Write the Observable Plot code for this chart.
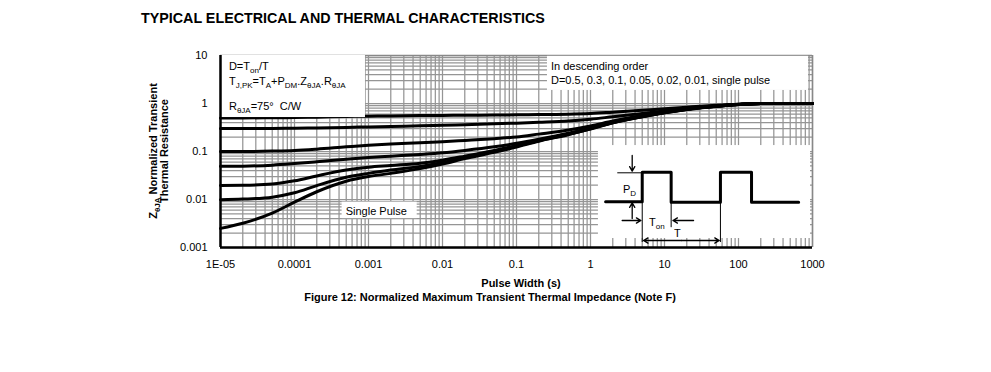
<!DOCTYPE html>
<html><head><meta charset="utf-8">
<script src="https://cdn.jsdelivr.net/npm/d3@7"></script>
<script src="https://cdn.jsdelivr.net/npm/@observablehq/plot@0.6"></script>
<style>
body{margin:0;background:#fff;font-family:"Liberation Sans",Arial,sans-serif;color:#000}
#wrap{position:relative;width:991px;height:372px;overflow:hidden;background:#fff}
#title{position:absolute;left:141px;top:10px;font-weight:bold;font-size:14.3px;line-height:16px;white-space:nowrap}
#chart{position:absolute;left:0;top:40px}
#caption{position:absolute;top:291px;left:0;width:980px;text-align:center;font-weight:bold;font-size:11px;line-height:13px;white-space:nowrap}
</style></head>
<body>
<div id="wrap">
<div id="title">TYPICAL ELECTRICAL AND THERMAL CHARACTERISTICS</div>
<div id="chart"></div>
<div id="caption">Figure 12: Normalized Maximum Transient Thermal Impedance (Note F)</div>
</div>
<script>
// ---------- data ----------
const durations = [1e-5,2e-5,5e-5,1e-4,2e-4,5e-4,1e-3,2e-3,5e-3,1e-2,2e-2,5e-2,0.1,0.2,0.5,1,2,5,10,20,50,100,200,500,1000];
const seriesNames = ["D=0.5","D=0.3","D=0.1","D=0.05","D=0.02","D=0.01","Single Pulse"];
const zD50 = [0.5,0.5,0.505,0.51,0.52,0.535,0.545,0.552,0.56,0.565,0.57,0.575,0.58,0.59,0.6,0.62,0.66,0.72,0.78,0.84,0.92,0.97,1.0,1.0,1.0];
const zD30 = [0.3,0.3,0.302,0.305,0.31,0.318,0.325,0.333,0.343,0.352,0.362,0.377,0.39,0.405,0.43,0.47,0.53,0.62,0.7,0.79,0.89,0.96,1.0,1.0,1.0];
const zD10 = [0.1,0.1,0.102,0.105,0.112,0.125,0.135,0.143,0.152,0.16,0.17,0.185,0.2,0.23,0.28,0.34,0.43,0.56,0.66,0.77,0.88,0.955,1.0,1.0,1.0];
const zD05 = [0.049,0.0495,0.052,0.056,0.061,0.069,0.075,0.08,0.087,0.094,0.105,0.125,0.148,0.18,0.24,0.31,0.41,0.545,0.65,0.76,0.877,0.952,1.0,1.0,1.0];
const zD02 = [0.0195,0.0197,0.021,0.0245,0.031,0.041,0.047,0.051,0.057,0.066,0.08,0.105,0.133,0.172,0.232,0.302,0.402,0.535,0.645,0.755,0.874,0.95,1.0,1.0,1.0];
const zD01 = [0.0099,0.0102,0.0112,0.0138,0.0195,0.029,0.035,0.041,0.049,0.059,0.075,0.1,0.128,0.168,0.228,0.298,0.398,0.532,0.642,0.752,0.872,0.95,1.0,1.0,1.0];
const zSingle = [0.0025,0.0032,0.0052,0.0088,0.0145,0.024,0.03,0.035,0.044,0.055,0.071,0.096,0.124,0.164,0.224,0.295,0.395,0.53,0.64,0.75,0.87,0.948,1.0,1.0,1.0];

const xTicks = [1e-5,1e-4,1e-3,1e-2,1e-1,1,10,100,1000];
const xTickLabels = ["1E-05","0.0001","0.001","0.01","0.1","1","10","100","1000"];
const yTicks = [0.001,0.01,0.1,1,10];
const yTickLabels = ["0.001","0.01","0.1","1","10"];

// annotation boxes (data units: seconds, normalized Z)
const boxT1 = [1e-5, 0.262, 4.4e-4, 1.28];
const boxT2 = [9.1e-4, 883, 4.55e-3, 940];
const boxZ1 = [0.51, 1.87, 0.0040, 0.00154];
const boxZ2 = [10, 9.6, 0.0088, 0.133];

// inset pulse schematic (data units)
const pulseT = [1.6, 5, 5, 12.3, 12.3, 57, 57, 150, 150, 650];
const pulseZ = [0.009, 0.009, 0.037, 0.037, 0.0088, 0.0088, 0.037, 0.037, 0.0088, 0.0088];
const guideT1 = [2.3, 5, 12.3, 57];
const guideZ1 = [0.036, 0.009, 0.0088, 0.0088];
const guideT2 = [5, 5, 12.3, 57];
const guideZ2 = [0.036, 0.0013, 0.00265, 0.0013];
const arrowT1 = [3.66, 3.66, 2.68, 24.7, 17, 17];
const arrowZ1 = [0.0825, 0.004, 0.00365, 0.00365, 0.0014, 0.0014];
const arrowT2 = [3.66, 3.66, 4.8, 13, 5.2, 55];
const arrowZ2 = [0.039, 0.0085, 0.00365, 0.00365, 0.0014, 0.0014];

// ---------- build tables ----------
const allZ = [zD50, zD30, zD10, zD05, zD02, zD01, zSingle];
const rows = [];
seriesNames.forEach((s, k) => durations.forEach((t, i) => rows.push({series: s, t, z: allZ[k][i]})));
const boxes = boxT1.map((d, i) => ({x1: d, x2: boxT2[i], y1: boxZ1[i], y2: boxZ2[i]}));
const pulse = pulseT.map((t, i) => ({t, z: pulseZ[i]}));
const guides = guideT1.map((d, i) => ({x1: d, y1: guideZ1[i], x2: guideT2[i], y2: guideZ2[i]}));
const arrows = arrowT1.map((d, i) => ({x1: d, y1: arrowZ1[i], x2: arrowT2[i], y2: arrowZ2[i]}));
const gridX = d3.scaleLog().domain([1e-5, 1000]).ticks();
const gridY = d3.scaleLog().domain([0.001, 10]).ticks();
const xLab = new Map(xTicks.map((d, i) => [d, xTickLabels[i]]));
const yLab = new Map(yTicks.map((d, i) => [d, yTickLabels[i]]));

const chart = Plot.plot({
  width: 991, height: 250,
  marginLeft: 220, marginRight: 179, marginTop: 15, marginBottom: 43,
  style: {fontFamily: "'Liberation Sans', Arial, sans-serif", fontSize: "11px", color: "#000", background: "transparent", overflow: "visible"},
  x: {type: "log", domain: [1e-5, 1000], ticks: xTicks, tickFormat: d => xLab.get(d), tickSize: 0, tickPadding: 13, label: null},
  y: {type: "log", domain: [0.001, 10], ticks: yTicks, tickFormat: d => yLab.get(d), tickSize: 0, tickPadding: 13, label: null},
  marks: [
    Plot.ruleX(gridX, {stroke: "#959595", strokeWidth: 1.25}),
    Plot.ruleY(gridY, {stroke: "#959595", strokeWidth: 1.25}),
    Plot.ruleY([10], {stroke: "#888", strokeWidth: 1.5}),
    Plot.ruleX([1000], {stroke: "#888", strokeWidth: 1.5}),
    Plot.line(rows, {x: "t", y: "z", z: "series", stroke: "#000", strokeWidth: 3, curve: "monotone-x"}),
    Plot.rect(boxes, {x1: "x1", x2: "x2", y1: "y1", y2: "y2", fill: "#fff"}),
    Plot.ruleX([1e-5], {stroke: "#000", strokeWidth: 2.5}),
    Plot.ruleY([0.001], {stroke: "#000", strokeWidth: 2.5}),
    Plot.line(pulse, {x: "t", y: "z", stroke: "#000", strokeWidth: 3, curve: "linear"}),
    Plot.link(guides, {x1: "x1", y1: "y1", x2: "x2", y2: "y2", stroke: "#000", strokeWidth: 1}),
    Plot.arrow(arrows, {x1: "x1", y1: "y1", x2: "x2", y2: "y2", stroke: "#000", strokeWidth: 1.3, headLength: 6})
  ]
});
document.getElementById("chart").append(chart);

// ---------- rich text annotations through the scales ----------
const sx = chart.scale("x"), sy = chart.scale("y");
const svg = d3.select(chart);
function rich(x, y, parts, {anchor = "start", weight = "normal", size = 11, subSize = 8, transform = null} = {}) {
  const t = svg.append("text").attr("x", x).attr("y", y)
    .attr("text-anchor", anchor).attr("font-weight", weight).attr("font-size", size)
    .attr("font-family", "'Liberation Sans', Arial, sans-serif").attr("fill", "#000");
  if (transform) t.attr("transform", transform);
  let shifted = false;
  parts.forEach(([str, sub]) => {
    const ts = t.append("tspan").text(str);
    if (sub && !shifted) { ts.attr("dy", 3).attr("font-size", subSize); shifted = true; }
    else if (sub) { ts.attr("font-size", subSize); }
    else if (shifted) { ts.attr("dy", -3); shifted = false; }
  });
  return t;
}
const notes = [
  {t: 1.32e-5, z: 4.87, parts: [["D=T"],["on",1],["/T"]]},
  {t: 1.32e-5, z: 2.37, parts: [["T"],["J,PK",1],["=T"],["A",1],["+P"],["DM",1],[".Z"],["\u03B8JA",1],[".R"],["\u03B8JA",1]]},
  {t: 1.32e-5, z: 0.73, parts: [["R"],["\u03B8JA",1],["=75\u00B0\u00A0 C/W"]]},
  {t: 0.297, z: 4.87, parts: [["In descending order"]]},
  {t: 0.297, z: 2.49, parts: [["D=0.5, 0.3, 0.1, 0.05, 0.02, 0.01, single pulse"]]},
  {t: 5.0e-4, z: 0.00475, parts: [["Single Pulse"]]},
  {t: 2.79, z: 0.0133, parts: [["P"],["D",1]]},
  {t: 6.27, z: 0.00274, parts: [["T"],["on",1]]},
  {t: 15.2, z: 0.00162, parts: [["T"]], anchor: "middle"}
];
notes.forEach(n => rich(sx.apply(n.t), sy.apply(n.z), n.parts, {anchor: n.anchor || "start"}));

// axis titles
rich(157, 111, [["Z"],["\u03B8JA",1],[" Normalized Transient"]], {anchor: "middle", weight: "bold", transform: "rotate(-90,157,111)"});
rich(168, 111, [["Thermal Resistance"]], {anchor: "middle", weight: "bold", transform: "rotate(-90,168,111)"});
rich(521, 247, [["Pulse Width (s)"]], {anchor: "middle", weight: "bold"});
</script>
</body></html>
